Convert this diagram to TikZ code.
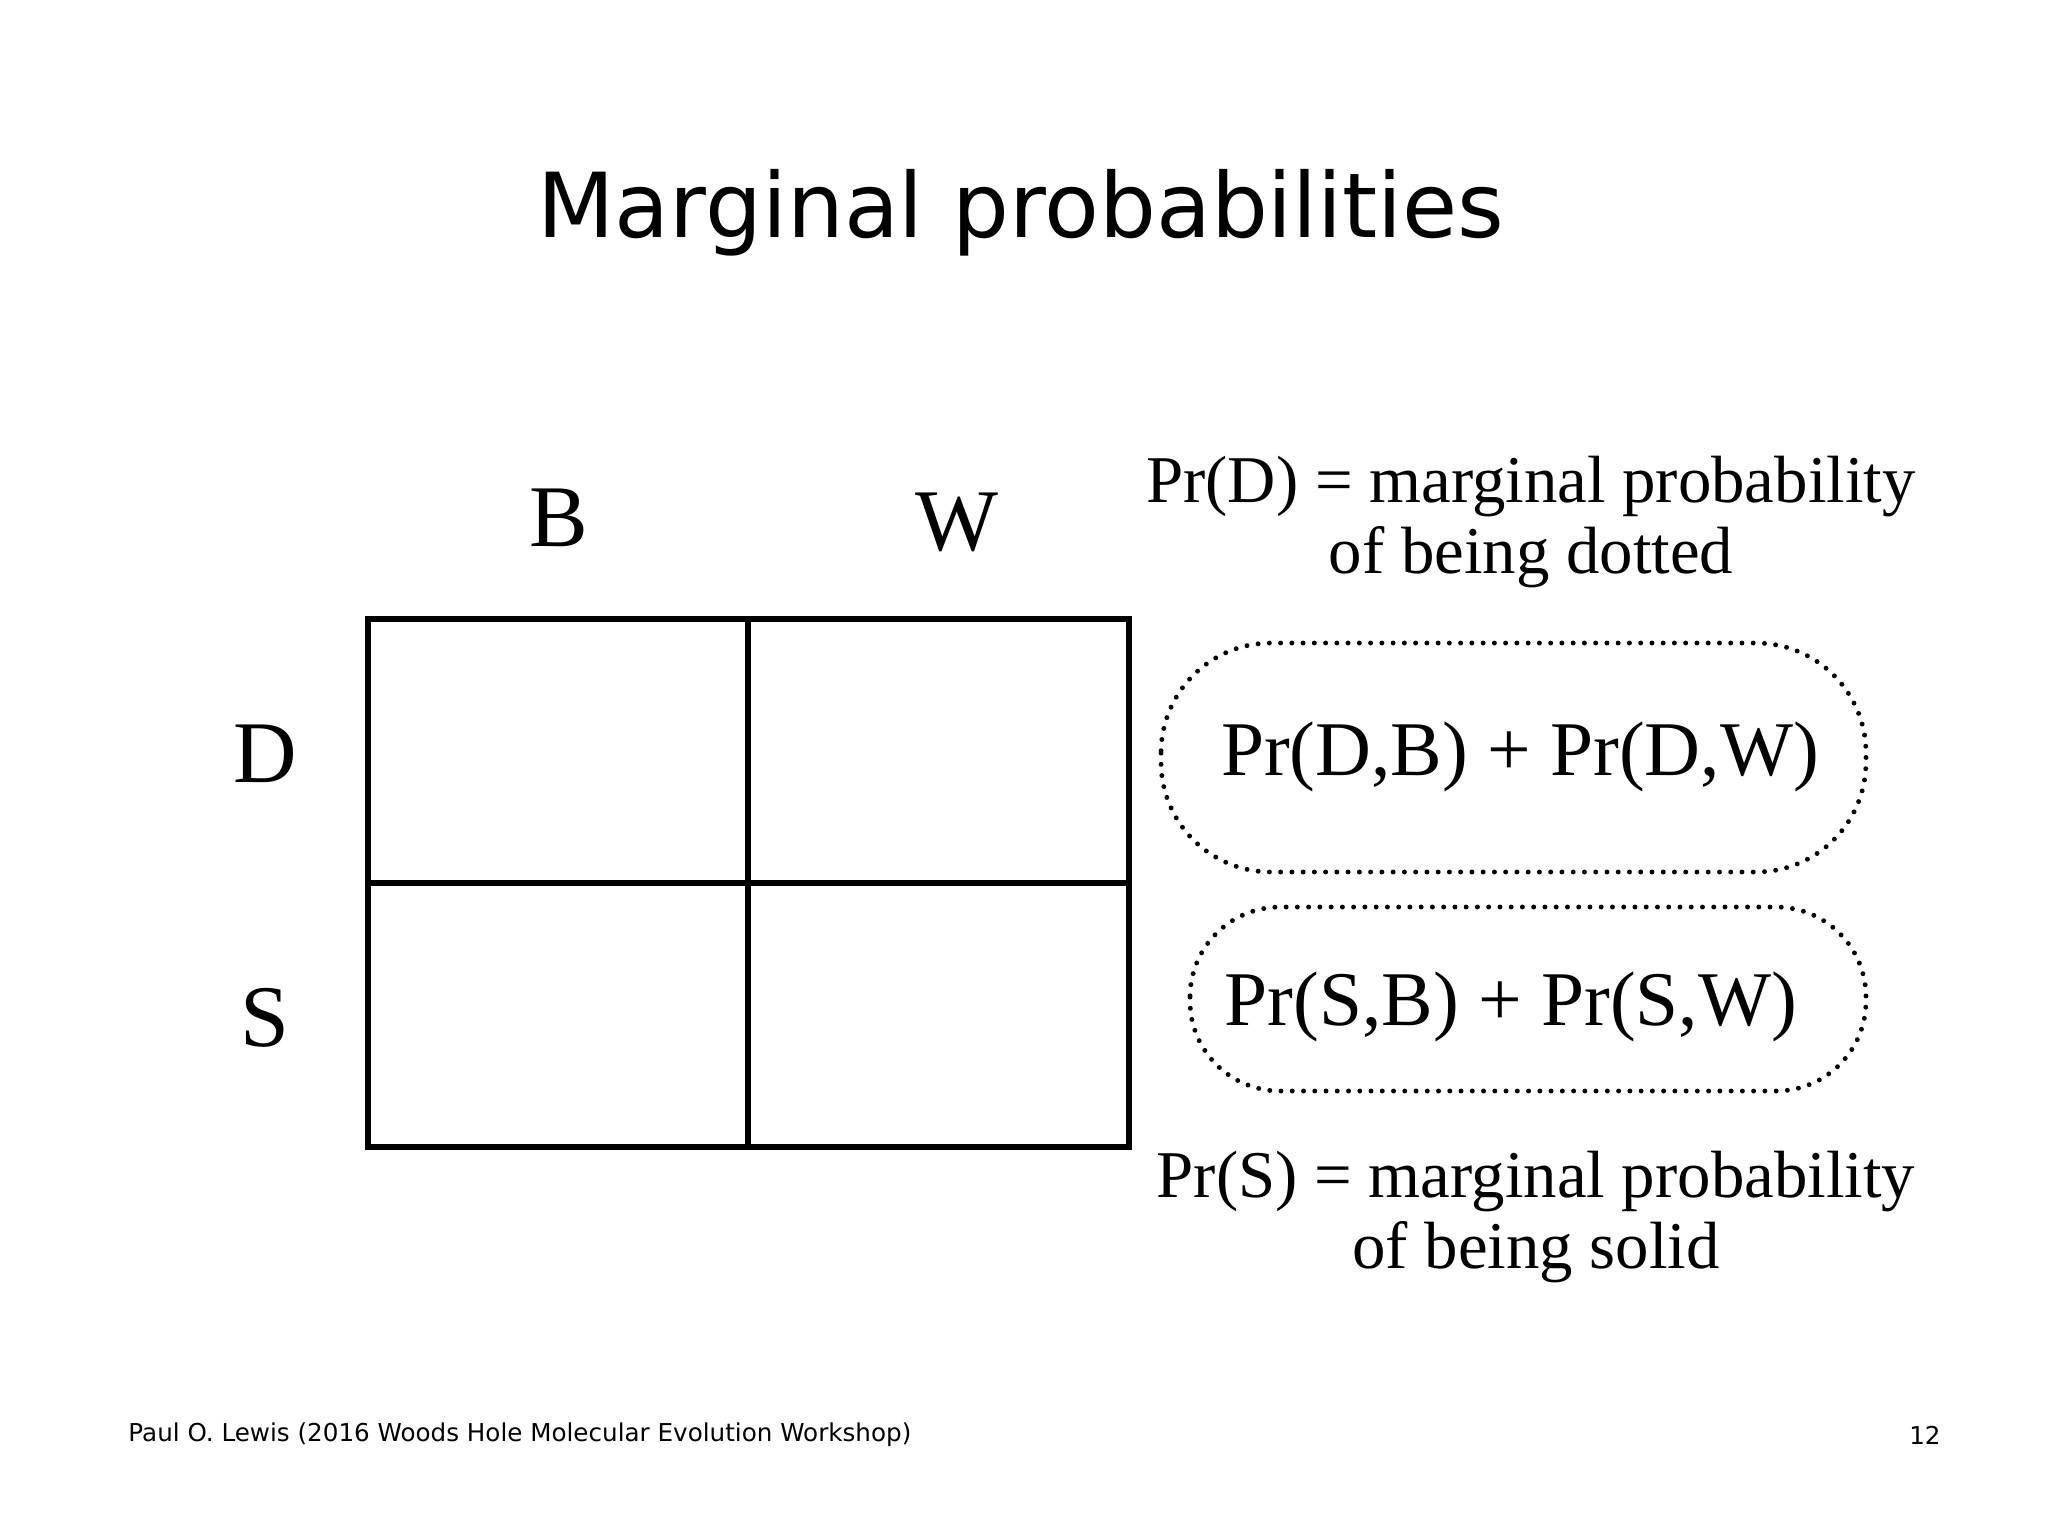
\documentclass[tikz,border=0pt]{standalone}
\usepackage{fontspec}
\setmainfont{Liberation Serif}
\newfontfamily\titlefont{DejaVu Sans}
\begin{document}
\begin{tikzpicture}[x=0.01cm,y=-0.01cm,
  lbl/.style={font=\fontsize{25}{28}\selectfont},
  desc/.style={font=\fontsize{19}{22}\selectfont,align=center},
  sumtxt/.style={font=\fontsize{22}{25}\selectfont},
  blob/.style={draw,line width=1.4pt,dash pattern=on 0pt off 3.2pt,line cap=round}]
\useasboundingbox (0,0) rectangle (2048,1536);
\node[font=\titlefont\fontsize{25.5}{30}\selectfont] (title) at (1021,213) {Marginal probabilities};
\draw[line width=1.9pt] (368,619) rectangle (1129,1147);
\draw[line width=1.9pt] (748,619) -- (748,1147);
\draw[line width=1.9pt] (368,883) -- (1129,883);
\node[lbl] (B) at (559,518) {B};
\node[lbl] (W) at (957,522) {W};
\node[lbl] (D) at (265,754) {D};
\node[lbl] (S) at (265,1018) {S};
\node[desc] (pd) at (1531,522) {Pr(D) = marginal probability\\[-2pt]of being dotted};
\node[sumtxt] (s1) at (1520,757) {Pr(D,B) + Pr(D,W)};
\node[sumtxt] (s2) at (1511,1007) {Pr(S,B) + Pr(S,W)};
\draw[blob,rounded corners=1.1cm] (1161,643) rectangle (1866,872);
\draw[blob,rounded corners=0.9cm] (1190,907) rectangle (1866,1091);
\node[desc] (ps) at (1536,1217) {Pr(S) = marginal probability\\[-2pt]of being solid};
\node[font=\titlefont\fontsize{7}{9}\selectfont,anchor=west] (foot) at (116,1435) {Paul O. Lewis (2016 Woods Hole Molecular Evolution Workshop)};
\node[font=\titlefont\fontsize{7}{9}\selectfont,anchor=east] (num) at (1953,1435) {12};
\end{tikzpicture}
\end{document}
